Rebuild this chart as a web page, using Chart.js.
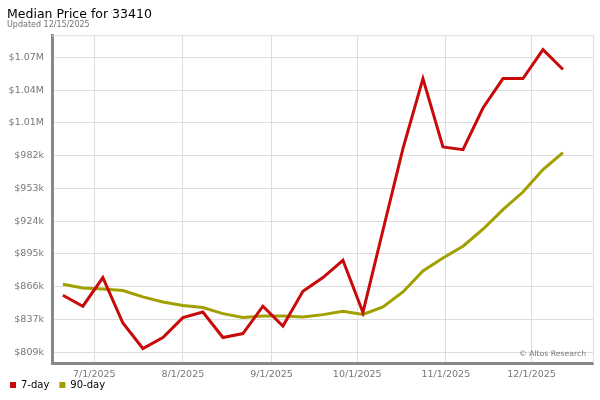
<!DOCTYPE html>
<html>
<head>
<meta charset="utf-8">
<script src="https://cdn.jsdelivr.net/npm/chart.js@4"></script>
<style>
  html, body { margin: 0; padding: 0; background: #fff; }
  #wrap { width: 600px; height: 400px; }
</style>
</head>
<body>
<div id="wrap"><canvas id="chart" width="600" height="400"></canvas></div>
<script>
// weekly observation dates
const weekDates = [
    '2025-06-20', '2025-06-27', '2025-07-04', '2025-07-11', '2025-07-18', '2025-07-25',
    '2025-08-01', '2025-08-08', '2025-08-15', '2025-08-22', '2025-08-29',
    '2025-09-05', '2025-09-12', '2025-09-19', '2025-09-26',
    '2025-10-03', '2025-10-10', '2025-10-17', '2025-10-24', '2025-10-31',
    '2025-11-07', '2025-11-14', '2025-11-21', '2025-11-28',
    '2025-12-05', '2025-12-12'
];
const sevenDay = [
    859300, 849600, 874900, 834800, 812300, 822000,
    839600, 844500, 822000, 825500, 849600,
    832200, 862800, 874900, 890100,
    844100, 916600, 988600, 1050300, 990000,
    987700, 1024400, 1050300, 1050300,
    1075900, 1058300
];
const ninetyDay = [
    869000, 865700, 864800, 863400, 857800, 853300,
    850200, 848400, 843100, 839600, 841000,
    841000, 840100, 842200, 845100,
    842300, 848900, 862200, 880700, 892100,
    902500, 917500, 934800, 950300,
    970100, 985100
];
const monthTicks = ['2025-07-01', '2025-08-01', '2025-09-01', '2025-10-01', '2025-11-01', '2025-12-01'];
const monthLabels = ['7/1/2025', '8/1/2025', '9/1/2025', '10/1/2025', '11/1/2025', '12/1/2025'];
const priceTicks = [809000, 837900, 866800, 895700, 924600, 953500, 982400, 1011300, 1040200, 1069100];
const priceLabels = ['$809k', '$837k', '$866k', '$895k', '$924k', '$953k', '$982k', '$1.01M', '$1.04M', '$1.07M'];

const TITLE = 'Median Price for 33410';
const SUBTITLE = 'Updated 12/15/2025';
const RED = '#c80a0a';
const OLIVE = '#a29f00';
const FONT = 'DejaVu Sans';

// days since 7/1/2025
const origin = Date.UTC(2025, 6, 1);
function dayOf(s) {
    const p = s.split('-').map(Number);
    return (Date.UTC(p[0], p[1] - 1, p[2]) - origin) / 86400000;
}

const toPoints = vals => vals.map((v, i) => ({ x: dayOf(weekDates[i]), y: v }));

// plot frame, heading and credit line
const frame = {
    id: 'frame',
    beforeDatasetsDraw(chart) {
        const { ctx, chartArea: a } = chart;
        ctx.save();
        ctx.strokeStyle = '#dddddd';
        ctx.lineWidth = 1;
        ctx.beginPath();
        ctx.moveTo(a.left, a.top + 0.5);
        ctx.lineTo(a.right + 0.5, a.top + 0.5);
        ctx.lineTo(a.right + 0.5, a.bottom);
        ctx.stroke();
        ctx.restore();
    },
    afterDraw(chart) {
        const { ctx, chartArea: a } = chart;
        ctx.save();
        ctx.textAlign = 'left';
        ctx.textBaseline = 'alphabetic';
        ctx.fillStyle = '#000';
        ctx.font = '12.5px "' + FONT + '"';
        ctx.fillText(TITLE, 7, 18.3);
        ctx.fillStyle = '#707070';
        ctx.font = '8px "' + FONT + '"';
        ctx.fillText(SUBTITLE, 7, 26.7);
        ctx.fillStyle = '#777';
        ctx.font = '7.7px "' + FONT + '"';
        ctx.textAlign = 'right';
        ctx.textBaseline = 'middle';
        ctx.fillText('\u00a9 Altos Research', a.right - 7, a.bottom - 9.5);
        ctx.restore();
    }
};

new Chart(document.getElementById('chart'), {
    type: 'line',
    data: {
        datasets: [
            {
                label: '7-day',
                data: toPoints(sevenDay),
                borderColor: RED,
                backgroundColor: RED,
                borderWidth: 3,
                pointRadius: 0,
                tension: 0
            },
            {
                label: '90-day',
                data: toPoints(ninetyDay),
                borderColor: OLIVE,
                backgroundColor: OLIVE,
                borderWidth: 3,
                pointRadius: 0,
                tension: 0
            }
        ]
    },
    options: {
        responsive: false,
        animation: false,
        layout: { padding: { left: 0, right: 7, top: 35.3, bottom: 0 } },
        plugins: {
            title: { display: false },
            legend: {
                position: 'bottom',
                align: 'start',
                labels: {
                    boxWidth: 6,
                    boxHeight: 6,
                    padding: 10,
                    color: '#000',
                    font: { family: FONT, size: 10 },
                    // plain filled squares, no outline
                    generateLabels: chart => Chart.defaults.plugins.legend.labels.generateLabels(chart)
                        .map(item => ({ ...item, lineWidth: 0 }))
                }
            },
            tooltip: { enabled: false }
        },
        scales: {
            x: {
                type: 'linear',
                min: -14.8,
                max: 174.5,
                afterBuildTicks: axis => {
                    axis.ticks = monthTicks.map(d => ({ value: dayOf(d) }));
                },
                afterFit: scale => { scale.height = 6.5; },
                ticks: {
                    autoSkip: false,
                    maxRotation: 0,
                    // mirrored so the labels are not clipped by the short axis box
                    mirror: true,
                    padding: -16.7,
                    color: '#777',
                    font: { family: FONT, size: 9.5 },
                    callback: (v, i) => monthLabels[i]
                },
                grid: { color: '#dddddd', drawTicks: false },
                border: { color: '#888888', width: 3 }
            },
            y: {
                type: 'linear',
                min: 799100,
                max: 1088500,
                afterBuildTicks: axis => {
                    axis.ticks = priceTicks.map(v => ({ value: v }));
                },
                afterFit: scale => { scale.width = 52; },
                ticks: {
                    padding: 8,
                    color: '#777',
                    font: { family: FONT, size: 9.5 },
                    callback: (v, i) => priceLabels[i]
                },
                grid: { color: '#dddddd', drawTicks: false },
                border: { color: '#888888', width: 3 }
            }
        }
    },
    plugins: [frame]
});
</script>
</body>
</html>
